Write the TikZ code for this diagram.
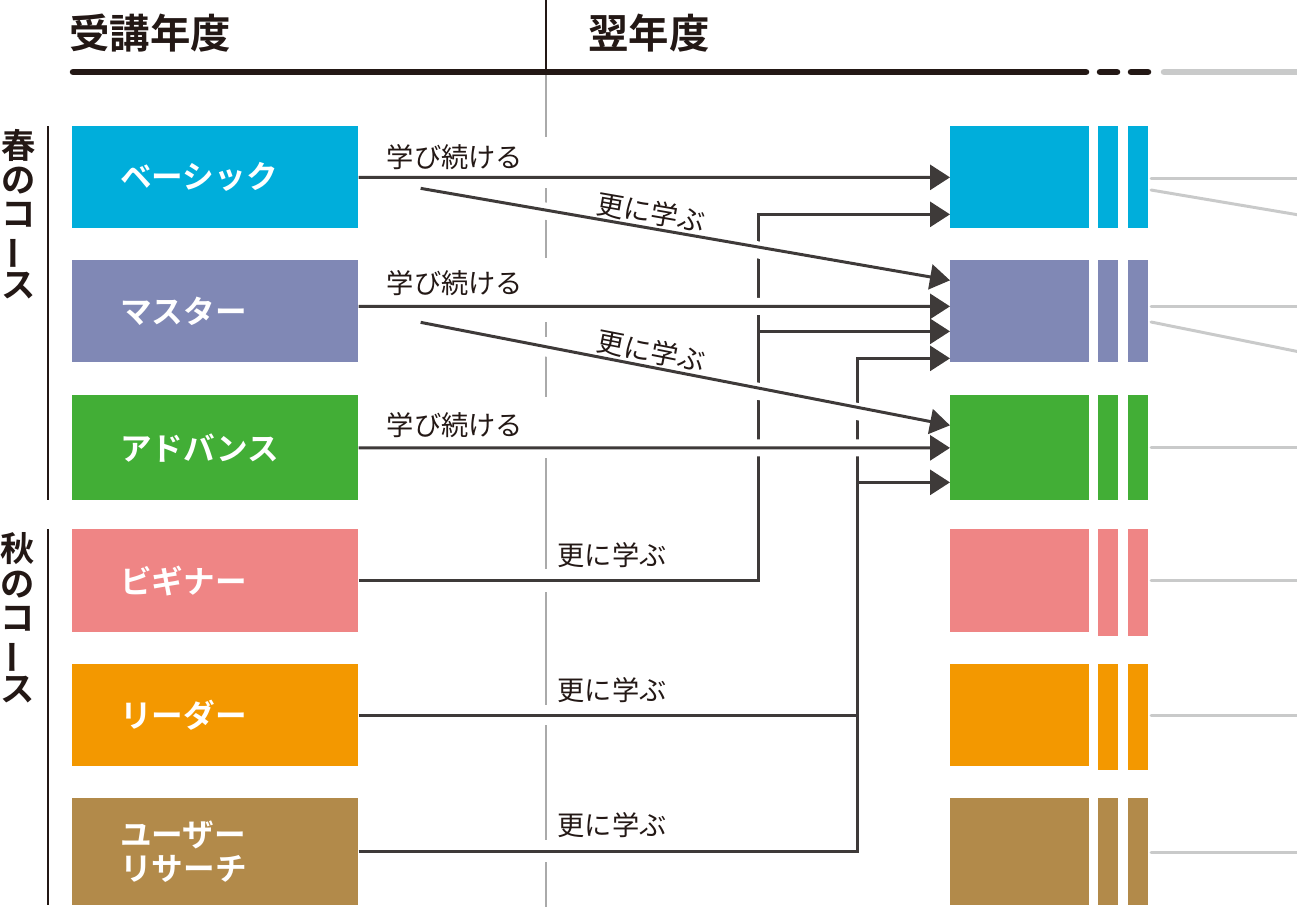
\documentclass[tikz,border=0pt]{standalone}
\usepackage{fontspec}
\setmainfont{Noto Sans CJK JP}[BoldFont={Noto Sans CJK JP Bold}]
\usetikzlibrary{arrows.meta,positioning,calc}
\definecolor{crsblue}{RGB}{0,174,219}
\definecolor{crspurple}{RGB}{128,136,181}
\definecolor{crsgreen}{RGB}{66,174,54}
\definecolor{crspink}{RGB}{239,133,133}
\definecolor{crsorange}{RGB}{243,152,0}
\definecolor{crsbrown}{RGB}{178,138,74}
\definecolor{crsdark}{RGB}{62,58,57}
\definecolor{crsblack}{RGB}{35,24,21}
\definecolor{crsgray}{RGB}{201,202,202}
\definecolor{crsguide}{RGB}{170,170,170}

\begin{document}
\begin{tikzpicture}[x=0.02cm, y=-0.02cm,
  course/.style={anchor=north west, text width=3.8cm, inner xsep=0.96cm, inner ysep=0pt,
    align=left, text=white, font=\bfseries\fontsize{18}{19}\selectfont},
  nextbox/.style={anchor=north west, minimum width=2.78cm, inner sep=0pt},
  link/.style={crsdark, line width=1.7pt},
  arr/.style={link, -{Triangle[length=0.4cm, width=0.5cm]}},
  halo/.style={white, line width=0.34cm},
  lbl/.style={text=crsblack, font=\fontsize{15.5}{16}\selectfont, inner sep=1pt},
  head/.style={text=crsblack, font=\bfseries\fontsize{23}{23}\selectfont},
  side/.style={text=crsblack, align=center, font=\bfseries\fontsize{19.5}{19.6}\selectfont},
  fade/.style={crsgray, line width=1.7pt, line cap=round}]
\useasboundingbox (0,0) rectangle (1297,907);
% Header
\node[head] (year1) at (150,33) {受講年度};
\node[head] (year2) at (649,33) {翌年度};
\draw[crsblack, line width=1.1pt] (546,0) -- (546,72);
\draw[crsblack, line width=3.7pt, line cap=round] (73,72) -- (1086,72);
\draw[crsblack, line width=3.7pt, line cap=round] (1100,72) -- (1117,72);
\draw[crsblack, line width=3.7pt, line cap=round] (1131,72) -- (1148,72);
\draw[crsgray, line width=3.7pt, line cap=round] (1164,72) -- (1305,72);
% Year boundary
\foreach \ya/\yb in {75/137, 188/204, 214/258, 322/337, 347/397, 458/569, 592/705, 725/840, 862/907} {
  \draw[crsguide, line width=0.7pt] (546,\ya) -- (546,\yb);
}
% Side labels
\node[side] (spring) at (19,214) {春\\の\\コ\\\makebox[1em]{\rotatebox[origin=c]{90}{ー}}\\ス};
\node[side] (autumn) at (18,618) {秋\\の\\コ\\\makebox[1em]{\rotatebox[origin=c]{90}{ー}}\\ス};
\draw[crsblack, line width=1.1pt] (48,126) -- (48,500);
\draw[crsblack, line width=1.1pt] (48,529) -- (48,905);
% Courses
\node[course, fill=crsblue, minimum height=2.04cm] (basic) at (72,126) {ベーシック};
\node[course, fill=crspurple, minimum height=2.04cm] (master) at (72,260) {マスター};
\node[course, fill=crsgreen, minimum height=2.1cm] (advance) at (72,395) {アドバンス};
\node[course, fill=crspink, minimum height=2.06cm] (beginner) at (72,529) {ビギナー};
\node[course, fill=crsorange, minimum height=2.04cm] (leader) at (72,664) {リーダー};
\node[course, fill=crsbrown, minimum height=2.14cm] (research) at (72,798) {ユーザー\\リサーチ};
% Next year
\foreach \nm/\cc/\yt/\hh/\ext in {basic/crsblue/126/102/0, master/crspurple/260/102/0,
    advance/crsgreen/395/105/0, beginner/crspink/529/103/4,
    leader/crsorange/664/102/4, research/crsbrown/798/107/0} {
  \node[nextbox, fill=\cc, minimum height=\hh*0.02cm] (\nm N) at (950,\yt) {};
  \fill[\cc] (1098,\yt) rectangle ++(20,\hh+\ext);
  \fill[\cc] (1128,\yt) rectangle ++(20,\hh+\ext);
}
\foreach \yy in {178,306,447,580,715,852} {
  \draw[fade] (1151,\yy) -- (1305,\yy);
}
\draw[fade] (1151,190) -- (1305,216);
\draw[fade] (1151,322) -- (1305,353);
% Targets
\coordinate (vA) at (758,0);
\coordinate (vB) at (857,0);
\coordinate (dB) at ($(basic.east)+(62,11)$);
\coordinate (dM) at ($(master.east)+(62,11)$);
\coordinate (sM) at ($(master.east)+(0,-5)$);
\coordinate (tB1) at ($(basicN.west)+(0,37)$);
\coordinate (tM1) at ($(masterN.west)+(0,-31)$);
\coordinate (tM2) at ($(masterN.west)+(0,-5)$);
\coordinate (tM3) at ($(masterN.west)+(0,20)$);
\coordinate (tM4) at ($(masterN.west)+(0,47)$);
\coordinate (tA1) at ($(advanceN.west)+(0,-22.5)$);
\coordinate (tA3) at ($(advanceN.west)+(0,34.5)$);
% Autumn courses
\draw[arr] (beginner.east) -| (vA |- tB1) -- (tB1);
\draw[arr] (vA |- tM3) -- (tM3);
\draw[arr] (leader.east) -| (vB |- tM4) -- (tM4);
\draw[link] (research.east) -| (vB |- leader.east);
\draw[arr] (vB |- tA3) -- (tA3);
% Spring courses
\draw[halo] (dB) -- ($(tM1)+(-25,0)$);
\draw[halo] (dM) -- ($(tA1)+(-25,0)$);
\draw[halo] (sM) -- ($(tM2)+(-25,0)$);
\draw[halo] (advance.east) -- ($(advanceN.west)+(-25,0)$);
\draw[arr] (dB) -- node[lbl, sloped, above, pos=0.43] (more1) {更に学ぶ} (tM1);
\draw[arr] (dM) -- node[lbl, sloped, above, pos=0.43] (more2) {更に学ぶ} (tA1);
\draw[arr] (basic.east) -- (basicN.west);
\draw[arr] (sM) -- (tM2);
\draw[arr] (advance.east) -- (advanceN.west);
% Labels
\node[lbl] (keep1) at (455,157) {学び続ける};
\node[lbl] (keep2) at (455,283) {学び続ける};
\node[lbl] (keep3) at (455,425) {学び続ける};
\node[lbl] (more4) at (612,555) {更に学ぶ};
\node[lbl] (more5) at (612,690) {更に学ぶ};
\node[lbl] (more6) at (612,825) {更に学ぶ};
\end{tikzpicture}
\end{document}
